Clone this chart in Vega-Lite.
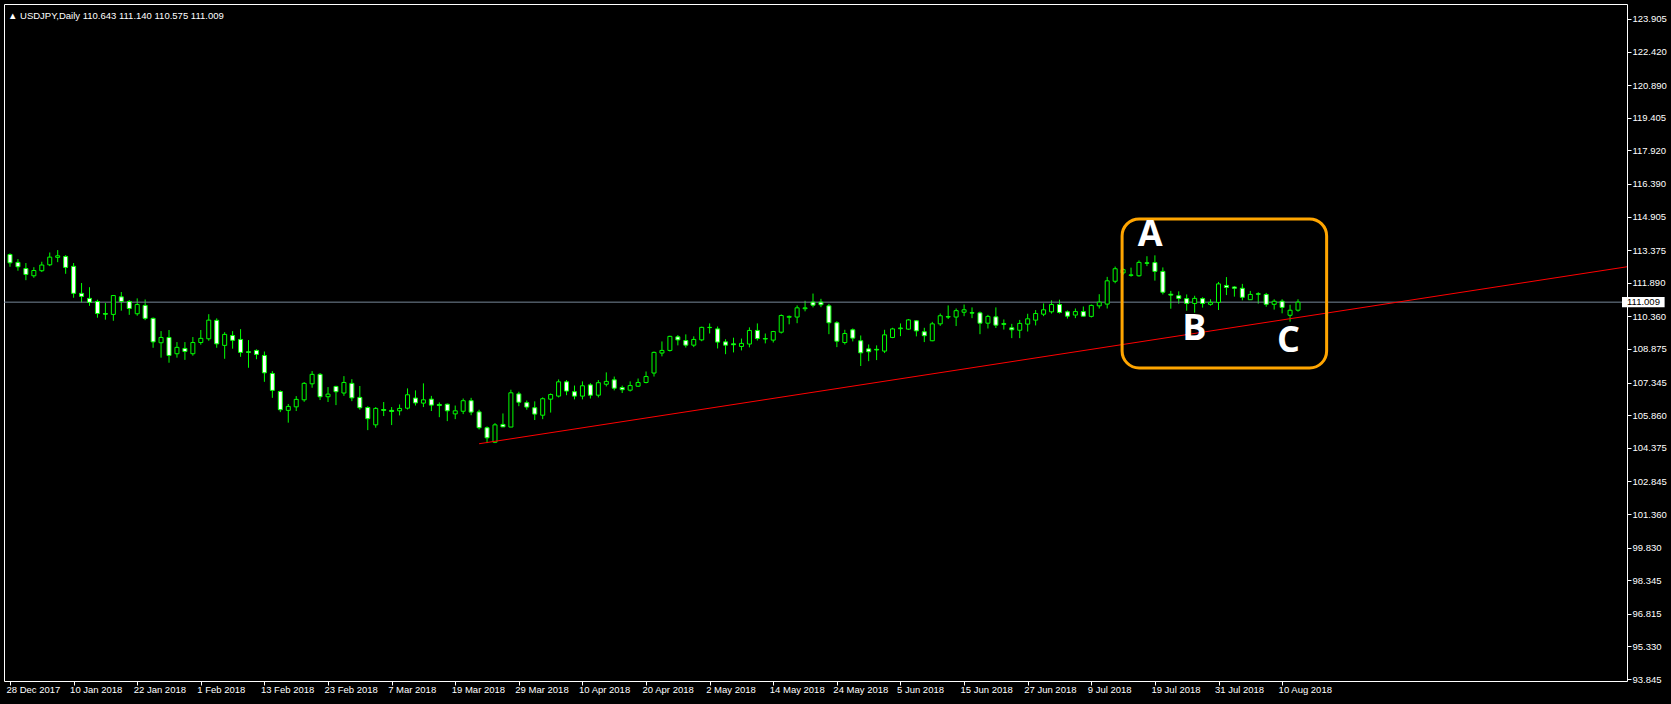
{
  "$schema": "https://vega.github.io/schema/vega-lite/v6.json",
  "width": 1623,
  "height": 677,
  "autosize": {"type": "none"},
  "padding": {"left": 4, "top": 4, "right": 44, "bottom": 23},
  "background": "#000000",
  "config": {
    "view": {"stroke": "#FFFFFF", "strokeWidth": 1},
    "axis": {"grid": false, "domain": false, "labelColor": "#FFFFFF", "tickColor": "#FFFFFF", "labelFont": "Liberation Sans", "labelFontSize": 9.5, "tickSize": 4, "labelOverlap": false, "labelBound": false, "labelFlush": false}
  },
  "title": {"text": "▲ USDJPY,Daily 110.643 111.140 110.575 111.009", "anchor": "start", "frame": "group", "orient": "top", "offset": 0, "dx": 4, "dy": 24, "baseline": "alphabetic", "color": "#FFFFFF", "font": "Liberation Sans", "fontSize": 9.5, "fontWeight": "normal"},
  "datasets": {
    "candles": [
      {"d":"2017-12-28","o":113.18,"h":113.23,"l":112.62,"c":112.80},
      {"d":"2017-12-29","o":112.82,"h":112.97,"l":112.44,"c":112.62},
      {"d":"2018-01-02","o":112.54,"h":112.79,"l":112.01,"c":112.27},
      {"d":"2018-01-03","o":112.21,"h":112.60,"l":112.12,"c":112.45},
      {"d":"2018-01-04","o":112.44,"h":112.85,"l":112.38,"c":112.70},
      {"d":"2018-01-05","o":112.71,"h":113.27,"l":112.65,"c":113.06},
      {"d":"2018-01-08","o":113.05,"h":113.38,"l":112.83,"c":113.12},
      {"d":"2018-01-09","o":113.09,"h":113.15,"l":112.30,"c":112.59},
      {"d":"2018-01-10","o":112.64,"h":112.79,"l":111.21,"c":111.41},
      {"d":"2018-01-11","o":111.41,"h":111.88,"l":111.00,"c":111.27},
      {"d":"2018-01-12","o":111.18,"h":111.69,"l":110.84,"c":111.00},
      {"d":"2018-01-15","o":111.04,"h":111.12,"l":110.30,"c":110.49},
      {"d":"2018-01-16","o":110.49,"h":110.97,"l":110.21,"c":110.46},
      {"d":"2018-01-17","o":110.45,"h":111.33,"l":110.16,"c":111.31},
      {"d":"2018-01-18","o":111.25,"h":111.47,"l":110.62,"c":111.04},
      {"d":"2018-01-19","o":111.04,"h":111.10,"l":110.43,"c":110.72},
      {"d":"2018-01-22","o":110.48,"h":111.18,"l":110.39,"c":110.90},
      {"d":"2018-01-23","o":110.86,"h":111.13,"l":110.19,"c":110.27},
      {"d":"2018-01-24","o":110.27,"h":110.31,"l":108.93,"c":109.20},
      {"d":"2018-01-25","o":109.16,"h":109.69,"l":108.48,"c":109.40},
      {"d":"2018-01-26","o":109.40,"h":109.74,"l":108.25,"c":108.58},
      {"d":"2018-01-29","o":108.66,"h":109.19,"l":108.48,"c":108.95},
      {"d":"2018-01-30","o":108.90,"h":109.19,"l":108.38,"c":108.76},
      {"d":"2018-01-31","o":108.66,"h":109.42,"l":108.57,"c":109.17},
      {"d":"2018-02-01","o":109.17,"h":109.74,"l":109.07,"c":109.36},
      {"d":"2018-02-02","o":109.34,"h":110.46,"l":109.25,"c":110.19},
      {"d":"2018-02-05","o":110.18,"h":110.27,"l":108.93,"c":109.11},
      {"d":"2018-02-06","o":109.04,"h":109.64,"l":108.43,"c":109.54},
      {"d":"2018-02-07","o":109.49,"h":109.69,"l":108.89,"c":109.27},
      {"d":"2018-02-08","o":109.31,"h":109.78,"l":108.52,"c":108.72},
      {"d":"2018-02-09","o":108.75,"h":109.28,"l":108.02,"c":108.72},
      {"d":"2018-02-12","o":108.81,"h":108.86,"l":108.41,"c":108.63},
      {"d":"2018-02-13","o":108.58,"h":108.76,"l":107.38,"c":107.79},
      {"d":"2018-02-14","o":107.76,"h":107.87,"l":106.65,"c":106.99},
      {"d":"2018-02-15","o":106.94,"h":106.99,"l":106.00,"c":106.11},
      {"d":"2018-02-16","o":106.08,"h":106.37,"l":105.52,"c":106.26},
      {"d":"2018-02-19","o":106.24,"h":106.73,"l":106.05,"c":106.58},
      {"d":"2018-02-20","o":106.56,"h":107.37,"l":106.47,"c":107.31},
      {"d":"2018-02-21","o":107.29,"h":107.87,"l":107.11,"c":107.72},
      {"d":"2018-02-22","o":107.72,"h":107.78,"l":106.55,"c":106.70},
      {"d":"2018-02-23","o":106.70,"h":107.14,"l":106.46,"c":106.82},
      {"d":"2018-02-26","o":107.17,"h":107.20,"l":106.32,"c":106.93},
      {"d":"2018-02-27","o":106.87,"h":107.64,"l":106.74,"c":107.35},
      {"d":"2018-02-28","o":107.31,"h":107.50,"l":106.50,"c":106.65},
      {"d":"2018-03-01","o":106.67,"h":107.19,"l":106.11,"c":106.20},
      {"d":"2018-03-02","o":106.21,"h":106.27,"l":105.18,"c":105.70},
      {"d":"2018-03-05","o":105.42,"h":106.23,"l":105.29,"c":106.17},
      {"d":"2018-03-06","o":106.12,"h":106.46,"l":105.82,"c":106.08},
      {"d":"2018-03-07","o":106.08,"h":106.23,"l":105.41,"c":106.03},
      {"d":"2018-03-08","o":106.06,"h":106.35,"l":105.85,"c":106.17},
      {"d":"2018-03-09","o":106.18,"h":107.08,"l":106.12,"c":106.79},
      {"d":"2018-03-12","o":106.64,"h":106.99,"l":106.30,"c":106.42},
      {"d":"2018-03-13","o":106.41,"h":107.31,"l":106.23,"c":106.56},
      {"d":"2018-03-14","o":106.59,"h":106.74,"l":106.05,"c":106.32},
      {"d":"2018-03-15","o":106.35,"h":106.44,"l":105.77,"c":106.30},
      {"d":"2018-03-16","o":106.36,"h":106.39,"l":105.59,"c":106.06},
      {"d":"2018-03-19","o":105.92,"h":106.30,"l":105.68,"c":106.06},
      {"d":"2018-03-20","o":106.04,"h":106.62,"l":105.91,"c":106.52},
      {"d":"2018-03-21","o":106.52,"h":106.65,"l":105.86,"c":106.00},
      {"d":"2018-03-22","o":106.01,"h":106.11,"l":105.21,"c":105.29},
      {"d":"2018-03-23","o":105.29,"h":105.35,"l":104.59,"c":104.83},
      {"d":"2018-03-26","o":104.63,"h":105.50,"l":104.59,"c":105.42},
      {"d":"2018-03-27","o":105.44,"h":105.94,"l":105.32,"c":105.33},
      {"d":"2018-03-28","o":105.32,"h":107.02,"l":105.32,"c":106.88},
      {"d":"2018-03-29","o":106.83,"h":106.93,"l":106.27,"c":106.45},
      {"d":"2018-03-30","o":106.43,"h":106.53,"l":106.11,"c":106.23},
      {"d":"2018-04-02","o":106.20,"h":106.49,"l":105.64,"c":105.91},
      {"d":"2018-04-03","o":105.86,"h":106.67,"l":105.68,"c":106.61},
      {"d":"2018-04-04","o":106.59,"h":106.85,"l":105.98,"c":106.80},
      {"d":"2018-04-05","o":106.73,"h":107.49,"l":106.67,"c":107.38},
      {"d":"2018-04-06","o":107.38,"h":107.46,"l":106.77,"c":106.96},
      {"d":"2018-04-09","o":106.93,"h":107.21,"l":106.58,"c":106.73},
      {"d":"2018-04-10","o":106.73,"h":107.40,"l":106.58,"c":107.20},
      {"d":"2018-04-11","o":107.24,"h":107.32,"l":106.62,"c":106.77},
      {"d":"2018-04-12","o":106.77,"h":107.46,"l":106.67,"c":107.34},
      {"d":"2018-04-13","o":107.27,"h":107.81,"l":107.17,"c":107.40},
      {"d":"2018-04-16","o":107.47,"h":107.62,"l":106.99,"c":107.09},
      {"d":"2018-04-17","o":107.12,"h":107.21,"l":106.87,"c":107.02},
      {"d":"2018-04-18","o":107.00,"h":107.40,"l":106.94,"c":107.21},
      {"d":"2018-04-19","o":107.18,"h":107.53,"l":107.15,"c":107.35},
      {"d":"2018-04-20","o":107.35,"h":107.85,"l":107.31,"c":107.62},
      {"d":"2018-04-23","o":107.78,"h":108.76,"l":107.62,"c":108.72},
      {"d":"2018-04-24","o":108.69,"h":109.22,"l":108.54,"c":108.81},
      {"d":"2018-04-25","o":108.81,"h":109.48,"l":108.76,"c":109.45},
      {"d":"2018-04-26","o":109.43,"h":109.51,"l":109.04,"c":109.29},
      {"d":"2018-04-27","o":109.26,"h":109.54,"l":108.94,"c":109.05},
      {"d":"2018-04-30","o":109.05,"h":109.45,"l":108.96,"c":109.31},
      {"d":"2018-05-01","o":109.29,"h":109.89,"l":109.23,"c":109.86},
      {"d":"2018-05-02","o":109.85,"h":110.04,"l":109.58,"c":109.86},
      {"d":"2018-05-03","o":109.79,"h":109.90,"l":108.90,"c":109.19},
      {"d":"2018-05-04","o":109.20,"h":109.32,"l":108.64,"c":109.05},
      {"d":"2018-05-07","o":109.11,"h":109.39,"l":108.72,"c":109.07},
      {"d":"2018-05-08","o":108.99,"h":109.35,"l":108.81,"c":109.13},
      {"d":"2018-05-09","o":109.10,"h":109.86,"l":108.95,"c":109.72},
      {"d":"2018-05-10","o":109.72,"h":110.04,"l":109.26,"c":109.35},
      {"d":"2018-05-11","o":109.35,"h":109.58,"l":109.13,"c":109.33},
      {"d":"2018-05-14","o":109.28,"h":109.70,"l":109.17,"c":109.67},
      {"d":"2018-05-15","o":109.64,"h":110.45,"l":109.58,"c":110.40},
      {"d":"2018-05-16","o":110.32,"h":110.40,"l":110.00,"c":110.36},
      {"d":"2018-05-17","o":110.33,"h":110.86,"l":110.05,"c":110.75},
      {"d":"2018-05-18","o":110.71,"h":111.07,"l":110.59,"c":110.75},
      {"d":"2018-05-21","o":111.01,"h":111.40,"l":110.77,"c":110.87},
      {"d":"2018-05-22","o":111.01,"h":111.16,"l":110.78,"c":110.89},
      {"d":"2018-05-23","o":110.84,"h":110.93,"l":109.55,"c":110.07},
      {"d":"2018-05-24","o":110.07,"h":110.14,"l":108.96,"c":109.23},
      {"d":"2018-05-25","o":109.17,"h":109.75,"l":109.08,"c":109.58},
      {"d":"2018-05-28","o":109.75,"h":109.81,"l":109.22,"c":109.37},
      {"d":"2018-05-29","o":109.25,"h":109.49,"l":108.10,"c":108.70},
      {"d":"2018-05-30","o":108.88,"h":109.08,"l":108.32,"c":108.75},
      {"d":"2018-05-31","o":108.86,"h":109.04,"l":108.37,"c":108.83},
      {"d":"2018-06-01","o":108.78,"h":109.75,"l":108.69,"c":109.52},
      {"d":"2018-06-04","o":109.40,"h":109.84,"l":109.37,"c":109.79},
      {"d":"2018-06-05","o":109.80,"h":110.04,"l":109.46,"c":109.83},
      {"d":"2018-06-06","o":109.78,"h":110.24,"l":109.75,"c":110.20},
      {"d":"2018-06-07","o":110.16,"h":110.19,"l":109.45,"c":109.70},
      {"d":"2018-06-08","o":109.66,"h":109.84,"l":109.19,"c":109.48},
      {"d":"2018-06-11","o":109.25,"h":110.11,"l":109.23,"c":110.02},
      {"d":"2018-06-12","o":110.02,"h":110.49,"l":109.93,"c":110.39},
      {"d":"2018-06-13","o":110.35,"h":110.86,"l":110.24,"c":110.33},
      {"d":"2018-06-14","o":110.33,"h":110.72,"l":109.92,"c":110.62},
      {"d":"2018-06-15","o":110.55,"h":110.90,"l":110.37,"c":110.66},
      {"d":"2018-06-18","o":110.53,"h":110.77,"l":110.28,"c":110.51},
      {"d":"2018-06-19","o":110.52,"h":110.58,"l":109.55,"c":110.05},
      {"d":"2018-06-20","o":110.05,"h":110.43,"l":109.81,"c":110.36},
      {"d":"2018-06-21","o":110.34,"h":110.77,"l":109.83,"c":109.96},
      {"d":"2018-06-22","o":110.03,"h":110.22,"l":109.76,"c":110.00},
      {"d":"2018-06-25","o":109.84,"h":110.02,"l":109.37,"c":109.75},
      {"d":"2018-06-26","o":109.73,"h":110.20,"l":109.37,"c":110.04},
      {"d":"2018-06-27","o":110.01,"h":110.48,"l":109.67,"c":110.25},
      {"d":"2018-06-28","o":110.19,"h":110.65,"l":109.95,"c":110.49},
      {"d":"2018-06-29","o":110.46,"h":110.95,"l":110.37,"c":110.66},
      {"d":"2018-07-02","o":110.57,"h":111.09,"l":110.49,"c":110.90},
      {"d":"2018-07-03","o":110.90,"h":111.12,"l":110.49,"c":110.54},
      {"d":"2018-07-04","o":110.57,"h":110.63,"l":110.26,"c":110.37},
      {"d":"2018-07-05","o":110.42,"h":110.72,"l":110.28,"c":110.58},
      {"d":"2018-07-06","o":110.58,"h":110.81,"l":110.36,"c":110.37},
      {"d":"2018-07-09","o":110.36,"h":110.90,"l":110.31,"c":110.86},
      {"d":"2018-07-10","o":110.84,"h":111.37,"l":110.72,"c":111.01},
      {"d":"2018-07-11","o":110.92,"h":112.16,"l":110.72,"c":111.98},
      {"d":"2018-07-12","o":111.96,"h":112.63,"l":111.87,"c":112.53},
      {"d":"2018-07-13","o":112.34,"h":112.55,"l":112.25,"c":112.49},
      {"d":"2018-07-16","o":112.23,"h":112.58,"l":112.17,"c":112.25},
      {"d":"2018-07-17","o":112.21,"h":112.91,"l":112.17,"c":112.82},
      {"d":"2018-07-18","o":112.80,"h":113.10,"l":112.65,"c":112.78},
      {"d":"2018-07-19","o":112.81,"h":113.14,"l":111.99,"c":112.41},
      {"d":"2018-07-20","o":112.41,"h":112.59,"l":111.36,"c":111.46},
      {"d":"2018-07-23","o":111.37,"h":111.52,"l":110.71,"c":111.33},
      {"d":"2018-07-24","o":111.30,"h":111.50,"l":110.94,"c":111.18},
      {"d":"2018-07-25","o":111.17,"h":111.36,"l":110.62,"c":110.95},
      {"d":"2018-07-26","o":110.95,"h":111.30,"l":110.53,"c":111.18},
      {"d":"2018-07-27","o":111.17,"h":111.23,"l":110.76,"c":110.95},
      {"d":"2018-07-30","o":110.91,"h":111.14,"l":110.85,"c":111.00},
      {"d":"2018-07-31","o":111.00,"h":111.93,"l":110.65,"c":111.84},
      {"d":"2018-08-01","o":111.77,"h":112.15,"l":111.33,"c":111.68},
      {"d":"2018-08-02","o":111.70,"h":111.74,"l":111.26,"c":111.64},
      {"d":"2018-08-03","o":111.64,"h":111.84,"l":111.09,"c":111.23},
      {"d":"2018-08-06","o":111.12,"h":111.52,"l":111.12,"c":111.36},
      {"d":"2018-08-07","o":111.39,"h":111.46,"l":110.94,"c":111.37},
      {"d":"2018-08-08","o":111.36,"h":111.43,"l":110.80,"c":110.91},
      {"d":"2018-08-09","o":110.91,"h":111.14,"l":110.67,"c":111.05},
      {"d":"2018-08-10","o":111.05,"h":111.14,"l":110.50,"c":110.77},
      {"d":"2018-08-13","o":110.41,"h":110.89,"l":110.12,"c":110.64},
      {"d":"2018-08-14","o":110.643,"h":111.140,"l":110.575,"c":111.009}
    ],
    "bid": [{"price": 111.009}],
    "trend": [{"i": 60, "p": 104.56}, {"i": 211, "p": 112.99}],
    "box": [{"i0": 140.875, "i1": 166.6, "p0": 114.80, "p1": 108.01}],
    "letters": [
      {"label": "A", "i": 144.4, "p": 113.58},
      {"label": "B", "i": 149.96, "p": 109.27},
      {"label": "C", "i": 161.81, "p": 108.76}
    ]
  },
  "layer": [
    {
      "data": {"name": "candles"},
      "transform": [{"window": [{"op": "row_number", "as": "i"}]}],
      "mark": {"type": "rule", "color": "#00FF00", "strokeWidth": 1},
      "encoding": {
        "x": {"field": "i", "type": "quantitative", "title": null, "scale": {"domain": [0.875, 203.75], "nice": false, "zero": false},
          "axis": {"orient": "bottom", "title": null, "labelOverlap": false, "tickCount": 60, "values": [1,9,17,25,33,41,49,57,65,73,81,89,97,105,113,121,129,137,145,153,161], "labelAlign": "left", "labelBaseline": "top", "labelPadding": -1, "labelOffset": -4, "labelExpr": "['28 Dec 2017','10 Jan 2018','22 Jan 2018','1 Feb 2018','13 Feb 2018','23 Feb 2018','7 Mar 2018','19 Mar 2018','29 Mar 2018','10 Apr 2018','20 Apr 2018','2 May 2018','14 May 2018','24 May 2018','5 Jun 2018','15 Jun 2018','27 Jun 2018','9 Jul 2018','19 Jul 2018','31 Jul 2018','10 Aug 2018'][round((datum.value-1)/8)]"}},
        "y": {"field": "l", "type": "quantitative", "title": null, "scale": {"domain": [93.754, 124.588], "nice": false, "zero": false},
          "axis": {"orient": "right", "title": null, "labelOverlap": false, "tickCount": 60, "values": [123.905,122.42,120.89,119.405,117.92,116.39,114.905,113.375,111.89,110.36,108.875,107.345,105.86,104.375,102.845,101.36,99.83,98.345,96.815,95.33,93.845], "format": ".3f", "labelPadding": 1, "labelAlign": "left", "labelBaseline": "middle"}},
        "y2": {"field": "h"}
      }
    },
    {
      "data": {"name": "bid"},
      "mark": {"type": "rule", "color": "#778899", "strokeWidth": 1},
      "encoding": {
        "y": {"field": "price", "type": "quantitative", "title": null}
      }
    },
    {
      "data": {"name": "candles"},
      "transform": [{"window": [{"op": "row_number", "as": "i"}]}],
      "mark": {"type": "bar", "orient": "vertical", "size": 4, "stroke": "#00FF00", "strokeWidth": 1},
      "encoding": {
        "x": {"field": "i", "type": "quantitative", "title": null},
        "y": {"field": "o", "type": "quantitative", "title": null},
        "y2": {"field": "c"},
        "fill": {"condition": {"test": "datum.c < datum.o", "value": "#FFFFFF"}, "value": "#000000"}
      }
    },
    {
      "data": {"name": "trend"},
      "mark": {"type": "line", "color": "#FF0000", "strokeWidth": 1, "clip": true},
      "encoding": {
        "x": {"field": "i", "type": "quantitative", "title": null},
        "y": {"field": "p", "type": "quantitative", "title": null}
      }
    },
    {
      "data": {"name": "box"},
      "mark": {"type": "rect", "fillOpacity": 0, "fill": "#000000", "stroke": "#FFA500", "strokeWidth": 3, "cornerRadius": 17},
      "encoding": {
        "x": {"field": "i0", "type": "quantitative", "title": null},
        "x2": {"field": "i1"},
        "y": {"field": "p0", "type": "quantitative", "title": null},
        "y2": {"field": "p1"}
      }
    },
    {
      "data": {"name": "letters"},
      "mark": {"type": "text", "color": "#FFFFFF", "font": "Open Sans", "fontSize": 36, "fontWeight": "bold", "align": "center", "baseline": "alphabetic"},
      "encoding": {
        "x": {"field": "i", "type": "quantitative", "title": null},
        "y": {"field": "p", "type": "quantitative", "title": null},
        "text": {"field": "label"}
      }
    },
    {
      "data": {"name": "bid"},
      "mark": {"type": "point", "filled": true, "color": "#FFFFFF", "opacity": 1, "shape": "M0,-1L8.2,-1L8.2,1L0,1Z", "size": 108, "clip": false},
      "encoding": {
        "x": {"datum": 203.75, "type": "quantitative", "title": null},
        "y": {"field": "price", "type": "quantitative", "title": null}
      }
    },
    {
      "data": {"name": "bid"},
      "mark": {"type": "text", "color": "#000000", "font": "Liberation Sans", "fontSize": 9.5, "align": "left", "baseline": "middle", "dx": 5},
      "encoding": {
        "x": {"datum": 203.75, "type": "quantitative", "title": null},
        "y": {"field": "price", "type": "quantitative", "title": null},
        "text": {"field": "price", "format": ".3f"}
      }
    }
  ]
}
